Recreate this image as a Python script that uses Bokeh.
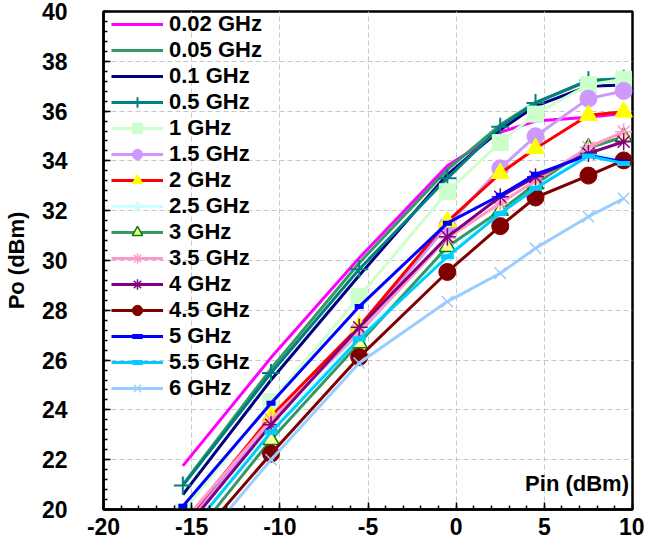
from bokeh.plotting import figure
from bokeh.models import (Range1d, SingleIntervalTicker, Label, Legend, LegendItem,
                          CustomJSTickFormatter)
from bokeh.embed import file_html
from bokeh.resources import INLINE

pin = [-15.5, -10.5, -5.5, -0.5, 2.5, 4.5, 7.5, 9.5]

labels = ["0.02 GHz", "0.05 GHz", "0.1 GHz", "0.5 GHz", "1 GHz", "1.5 GHz", "2 GHz",
          "2.5 GHz", "3 GHz", "3.5 GHz", "4 GHz", "4.5 GHz", "5 GHz", "5.5 GHz", "6 GHz"]

po_0_02 = [21.75, 26.1, 30.1, 33.8, 35.15, 35.6, 35.75, 35.9]
po_0_05 = [21.0, 25.65, 29.9, 33.65, 35.45, 36.35, 37.2, 37.3]
po_0_1 = [20.6, 25.2, 29.4, 33.45, 35.25, 36.2, 37.0, 37.05]
po_0_5 = [20.96, 25.48, 29.65, 33.3, 35.37, 36.33, 37.24, 37.3]
po_1 = [19.9, 24.33, 28.55, 32.76, 34.74, 35.88, 37.06, 37.28]
po_1_5 = [19.3, 23.5, 27.2, 31.4, 33.7, 34.99, 36.5, 36.81]
po_2 = [19.4, 23.74, 27.35, 31.56, 33.5, 34.5, 35.83, 35.97]
po_2_5 = [18.8, 23.2, 27.0, 30.3, 31.9, 32.95, 34.3, 34.1]
po_3 = [18.4, 22.8, 26.68, 30.55, 32.0, 33.07, 34.52, 34.97]
po_3_5 = [19.5, 23.6, 27.1, 30.9, 32.3, 33.2, 34.55, 35.17]
po_4 = [19.1, 23.4, 27.32, 30.95, 32.56, 33.36, 34.3, 34.77]
po_4_5 = [18.15, 22.24, 26.12, 29.54, 31.38, 32.53, 33.41, 34.02]
po_5 = [20.13, 24.27, 28.15, 31.5, 32.62, 33.46, 34.23, 33.96]
po_5_5 = [18.8, 23.1, 26.85, 30.15, 31.89, 32.9, 34.2, 33.9]
po_6 = [17.8, 22.0, 25.88, 28.35, 29.49, 30.49, 31.76, 32.49]

series = [po_0_02, po_0_05, po_0_1, po_0_5, po_1, po_1_5, po_2, po_2_5,
          po_3, po_3_5, po_4, po_4_5, po_5, po_5_5, po_6]

# style: (line color, marker, marker fill, marker line color, marker size, marker line width)
styles = [
    ("#FF00FF", None, None, None, 0, 0),
    ("#339966", None, None, None, 0, 0),
    ("#000080", None, None, None, 0, 0),
    ("#008080", "cross", "#008080", "#008080", 18, 2),
    ("#CCFFCC", "square", "#CCFFCC", "#CCFFCC", 16, 1),
    ("#CC99FF", "circle", "#CC99FF", "#CC99FF", 17, 1),
    ("#FF0000", "triangle", "#FFFF00", "#FFFF00", 18, 1),
    ("#CCFFFF", "diamond", "#CCFFFF", "#CCFFFF", 17, 1),
    ("#339966", "triangle", "#FFFF99", "#008000", 16, 1.5),
    ("#FF99CC", "asterisk", "#FF99CC", "#FF99CC", 17, 1.5),
    ("#800080", "asterisk", "#800080", "#800080", 17, 1.5),
    ("#800000", "circle", "#800000", "#800000", 17, 1),
    ("#0000FF", "dash", "#0000FF", "#0000FF", 9, 5),
    ("#00CCFF", "dash", "#00CCFF", "#00CCFF", 13, 5),
    ("#99CCFF", "x", "#99CCFF", "#99CCFF", 16, 1.5),
]

FONT = "Liberation Sans"
TOP = 11
BOTTOM = 35
HEIGHT = 544
FRAME_H = HEIGHT - TOP - BOTTOM

p = figure(width=644, height=HEIGHT, x_range=Range1d(-20, 10), y_range=Range1d(20, 40),
           output_backend="svg", toolbar_location=None, title=None,
           min_border_left=95, min_border_right=12, min_border_top=TOP,
           min_border_bottom=BOTTOM)

p.outline_line_color = "black"
p.outline_line_width = 2.5
p.background_fill_color = "white"
p.border_fill_color = "white"

p.xaxis.ticker = SingleIntervalTicker(interval=5, num_minor_ticks=5)
p.yaxis.ticker = SingleIntervalTicker(interval=2, num_minor_ticks=5)
p.xgrid.ticker = SingleIntervalTicker(interval=5)
p.ygrid.ticker = SingleIntervalTicker(interval=2)
for g in (p.xgrid, p.ygrid):
    g.grid_line_color = "#C8C8C8"
    g.grid_line_dash = "5 3"
    g.grid_line_width = 1

for ax in (p.xaxis, p.yaxis):
    ax.axis_line_color = "black"
    ax.axis_line_width = 2.5
    ax.major_tick_in = 7
    ax.major_tick_out = 0
    ax.minor_tick_in = 4
    ax.minor_tick_out = 0
    ax.major_tick_line_width = 1.5
    ax.minor_tick_line_width = 1.5
    ax.major_label_text_font = FONT
    ax.major_label_text_font_style = "bold"
    ax.major_label_text_font_size = "23px"
    ax.major_label_text_color = "black"
    ax.formatter = CustomJSTickFormatter(code="return tick.toString();")

p.xaxis.major_label_standoff = 8
p.yaxis.major_label_standoff = 36
p.yaxis.axis_label = "Po (dBm)"
p.yaxis.axis_label_text_font = FONT
p.yaxis.axis_label_text_font_style = "bold"
p.yaxis.axis_label_text_font_size = "22px"
p.yaxis.axis_label_text_color = "black"
p.yaxis.axis_label_standoff = 10

items = []
for lab, ys, st in zip(labels, series, styles):
    lc, mk, fc, mlc, ms, mlw = st
    rs = [p.line(pin, ys, line_color=lc, line_width=3)]
    if mk is not None:
        rs.append(p.scatter(pin, ys, marker=mk, size=ms, fill_color=fc,
                            line_color=mlc, line_width=mlw))
    items.append(LegendItem(label=lab, renderers=rs))

ITEM_H = 26
legend = Legend(items=items, location=(8, FRAME_H - ITEM_H * len(items)))
legend.border_line_color = None
legend.background_fill_alpha = 0
legend.label_text_font = FONT
legend.label_text_font_style = "bold"
legend.label_text_font_size = "22px"
legend.label_text_color = "black"
legend.glyph_width = 52
legend.glyph_height = ITEM_H
legend.label_height = ITEM_H
legend.label_standoff = 6
legend.spacing = 0
legend.padding = 0
legend.margin = 0
p.add_layout(legend)

p.add_layout(Label(x=9.8, y=21.05, text="Pin (dBm)", text_align="right",
                   text_baseline="middle", text_font=FONT, text_font_style="bold",
                   text_font_size="22px", text_color="black"))

open("out.html", "w").write(file_html(p, INLINE))
